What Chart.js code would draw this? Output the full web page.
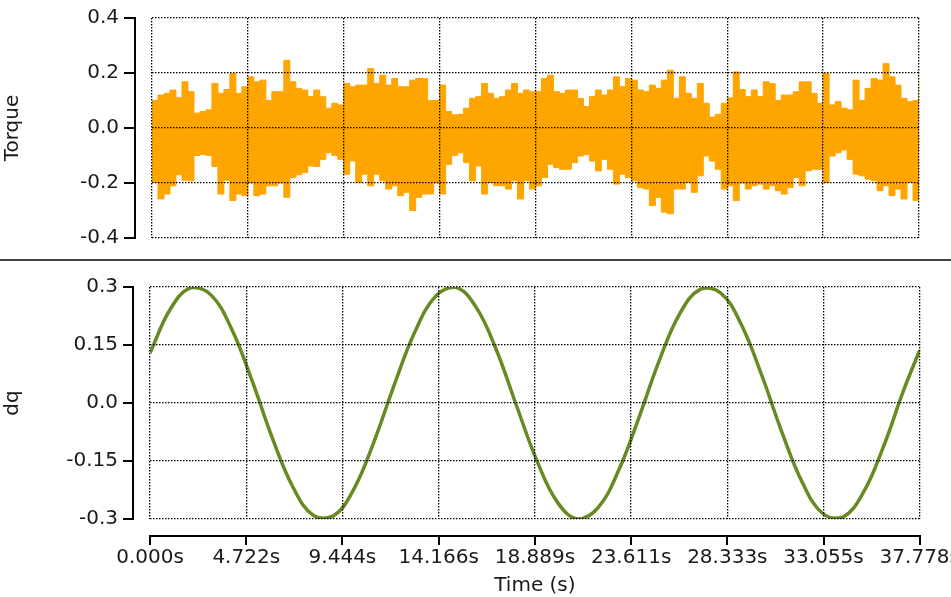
<!DOCTYPE html>
<html>
<head>
<meta charset="utf-8">
<script src="https://cdn.jsdelivr.net/npm/chart.js@4.4.0/dist/chart.umd.min.js"></script>
<style>
  body { margin: 0; background: #fff; overflow: hidden; }
  #wrap { position: relative; width: 951px; height: 597px; overflow: hidden; }
  #topChart { position: absolute; left: 0; top: 0; }
  #sep { position: absolute; left: 0; top: 259px; width: 951px; height: 2px; background: #444; }
  #bottomChart { position: absolute; left: 0; top: 262px; }
</style>
</head>
<body>
<div id="wrap">
  <canvas id="topChart" width="951" height="258"></canvas>
  <div id="sep"></div>
  <canvas id="bottomChart" width="961" height="335"></canvas>
</div>
<script>
// Axes
const timeTicks = [0, 4.722, 9.444, 14.166, 18.889, 23.611, 28.333, 33.055, 37.778];
const timeTickLabels = ['0.000s', '4.722s', '9.444s', '14.166s', '18.889s', '23.611s', '28.333s', '33.055s', '37.778s'];
const torqueTicks = [-0.4, -0.2, 0, 0.2, 0.4];
const torqueTickLabels = ['-0.4', '-0.2', '0.0', '0.2', '0.4'];
const dqTicks = [-0.3, -0.15, 0, 0.15, 0.3];
const dqTickLabels = ['-0.3', '-0.15', '0.0', '0.15', '0.3'];

// Torque : enveloppe haute / basse du signal (pas d'échantillonnage constant)
const torqueStep = 37.778 / 128;
const torqueUpper = [
  0.10, 0.12, 0.126, 0.138, 0.11, 0.168, 0.132, 0.054, 0.06, 0.066, 0.162, 0.126, 0.14, 0.198, 0.126, 0.15,
  0.186, 0.168, 0.174, 0.10, 0.132, 0.132, 0.246, 0.168, 0.144, 0.138, 0.114, 0.138, 0.114, 0.072, 0.09, 0.084,
  0.162, 0.15, 0.156, 0.156, 0.216, 0.162, 0.192, 0.156, 0.18, 0.15, 0.15, 0.174, 0.18, 0.18, 0.10, 0.10,
  0.156, 0.06, 0.048, 0.05, 0.072, 0.108, 0.114, 0.162, 0.126, 0.108, 0.114, 0.138, 0.162, 0.126, 0.138, 0.132,
  0.132, 0.18, 0.192, 0.132, 0.126, 0.138, 0.138, 0.108, 0.078, 0.114, 0.138, 0.12, 0.138, 0.186, 0.15, 0.18,
  0.174, 0.138, 0.132, 0.156, 0.144, 0.174, 0.21, 0.108, 0.186, 0.126, 0.108, 0.162, 0.09, 0.04, 0.05, 0.09,
  0.11, 0.204, 0.14, 0.114, 0.138, 0.114, 0.168, 0.162, 0.10, 0.12, 0.12, 0.132, 0.168, 0.168, 0.126, 0.09,
  0.198, 0.084, 0.096, 0.072, 0.066, 0.174, 0.10, 0.144, 0.18, 0.174, 0.234, 0.186, 0.156, 0.108, 0.096, 0.10,
  0.198
];
const torqueLower = [
  -0.198, -0.258, -0.24, -0.21, -0.17, -0.19, -0.192, -0.10, -0.096, -0.10, -0.14, -0.24, -0.19, -0.264, -0.24, -0.246,
  -0.20, -0.246, -0.24, -0.21, -0.21, -0.20, -0.252, -0.18, -0.17, -0.162, -0.138, -0.14, -0.114, -0.09, -0.10, -0.114,
  -0.168, -0.12, -0.198, -0.168, -0.21, -0.168, -0.192, -0.222, -0.21, -0.246, -0.234, -0.30, -0.252, -0.24, -0.24, -0.20,
  -0.24, -0.132, -0.10, -0.09, -0.126, -0.192, -0.138, -0.24, -0.198, -0.21, -0.21, -0.222, -0.192, -0.258, -0.192, -0.222,
  -0.21, -0.18, -0.132, -0.144, -0.15, -0.15, -0.126, -0.102, -0.096, -0.12, -0.156, -0.114, -0.15, -0.204, -0.168, -0.18,
  -0.192, -0.216, -0.222, -0.282, -0.252, -0.306, -0.312, -0.222, -0.222, -0.198, -0.234, -0.174, -0.102, -0.12, -0.15, -0.222,
  -0.21, -0.264, -0.20, -0.222, -0.21, -0.204, -0.222, -0.21, -0.228, -0.24, -0.216, -0.18, -0.21, -0.156, -0.15, -0.15,
  -0.198, -0.102, -0.09, -0.08, -0.114, -0.168, -0.174, -0.186, -0.192, -0.228, -0.21, -0.246, -0.222, -0.258, -0.198, -0.264,
  -0.264
];

// dq
const dqTimes = [0, 1, 2, 3, 4, 5, 6, 7, 8, 9, 10, 11, 12, 13, 14, 15, 16, 17, 18, 19,
  20, 21, 22, 23, 24, 25, 26, 27, 28, 29, 30, 31, 32, 33, 34, 35, 36, 37, 37.778];
const dqValues = [0.129, 0.243, 0.298, 0.279, 0.192, 0.059, -0.090, -0.216, -0.290, -0.292,
  -0.223, -0.099, 0.049, 0.184, 0.275, 0.299, 0.248, 0.137, -0.009, -0.151,
  -0.257, -0.300, -0.270, -0.174, -0.037, 0.111, 0.231, 0.294, 0.285, 0.205,
  0.075, -0.074, -0.204, -0.285, -0.295, -0.232, -0.112, 0.035, 0.137];

const FONT = { family: 'DejaVu Sans', size: 20 };
const TEXT = '#1a1a1a';

// échelle "intérieure" : ne dessine que la grille pointillée, par-dessus les données
function gridScale(pos, min, max, ticks, size) {
  return {
    type: 'linear', position: pos, min: min, max: max, weight: 0,
    afterBuildTicks: s => { s.ticks = ticks.map(v => ({ value: v })); },
    afterFit: s => { if (pos === 'left') s.width = size; else s.height = size; },
    ticks: { display: false },
    grid: { color: '#000', lineWidth: 1.3, drawTicks: false, z: 1 },
    border: { display: false, dash: [1.5, 1.5] }
  };
}

// échelle "extérieure" : trait d'axe, graduations, libellés, titre
function axisScale(pos, min, max, ticks, labels, size, title, tickLen, pad) {
  return {
    type: 'linear', position: pos, min: min, max: max, weight: 1,
    afterBuildTicks: s => { s.ticks = ticks.map(v => ({ value: v })); },
    afterFit: s => { if (pos === 'left') s.width = size; else s.height = size; },
    ticks: { font: FONT, color: TEXT, padding: pad, maxRotation: 0, autoSkip: false,
             callback: (v, i) => labels[i] },
    grid: { drawOnChartArea: false, color: '#000', lineWidth: 2, tickLength: tickLen },
    border: { display: true, color: '#000', width: 2 },
    title: { display: true, text: title, font: FONT, color: TEXT, padding: { top: 1, bottom: -1 } }
  };
}

const commonOpts = {
  responsive: false,
  animation: false,
  plugins: { legend: { display: false }, tooltip: { enabled: false } }
};

new Chart(document.getElementById('topChart'), {
  type: 'line',
  data: {
    datasets: [
      {
        data: torqueUpper.map((v, i) => ({ x: i * torqueStep, y: v })),
        borderColor: '#ffa500', backgroundColor: '#ffa500', borderWidth: 1,
        pointRadius: 0, stepped: true, fill: 'origin'
      },
      {
        data: torqueLower.map((v, i) => ({ x: i * torqueStep, y: v })),
        borderColor: '#ffa500', backgroundColor: '#ffa500', borderWidth: 1,
        pointRadius: 0, stepped: true, fill: 'origin'
      }
    ]
  },
  options: Object.assign({}, commonOpts, {
    layout: { autoPadding: false, padding: { top: 18, bottom: 20, left: 0, right: 32 } },
    scales: {
      x: gridScale('bottom', 0, 37.778, timeTicks, 0),
      y: gridScale('left', -0.4, 0.4, torqueTicks, 17),
      yAxis: axisScale('left', -0.4, 0.4, torqueTicks, torqueTickLabels, 135, 'Torque', 11, 5)
    }
  })
});

new Chart(document.getElementById('bottomChart'), {
  type: 'line',
  data: {
    datasets: [{
      data: dqTimes.map((t, i) => ({ x: t, y: dqValues[i] })),
      borderColor: '#678a22', borderWidth: 3.5, pointRadius: 0, tension: 0.4, fill: false
    }]
  },
  options: Object.assign({}, commonOpts, {
    layout: { autoPadding: false, padding: { top: 25, bottom: 0, left: 0, right: 32 } },
    scales: {
      x: gridScale('bottom', 0, 37.778, timeTicks, 17),
      xAxis: axisScale('bottom', 0, 37.778, timeTicks, timeTickLabels, 61, 'Time (s)', 9, 1),
      y: gridScale('left', -0.3, 0.3, dqTicks, 17),
      yAxis: axisScale('left', -0.3, 0.3, dqTicks, dqTickLabels, 133, 'dq', 10, 5)
    }
  })
});
</script>
</body>
</html>
